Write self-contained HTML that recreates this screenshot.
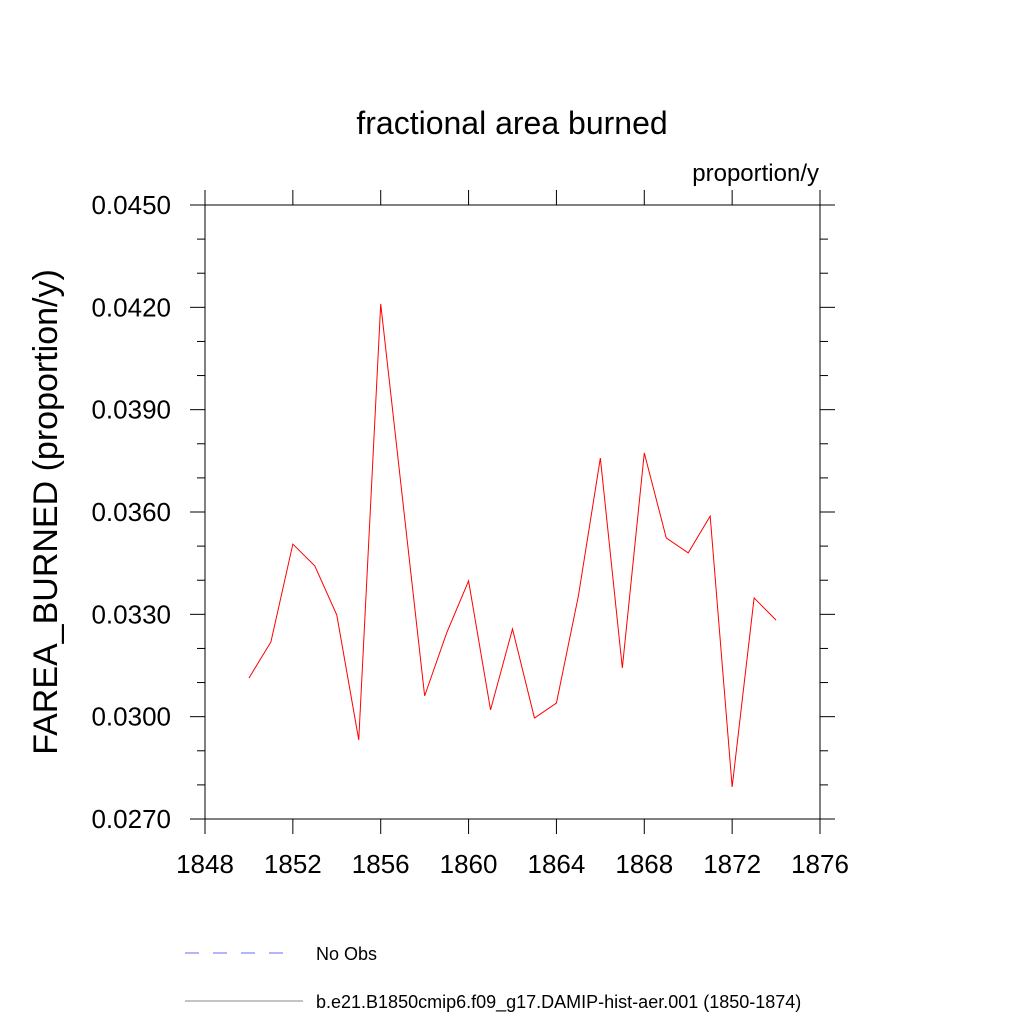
<!DOCTYPE html>
<html><head><meta charset="utf-8"><style>body{margin:0;background:#fff}svg{display:block}</style></head>
<body>
<svg id="c" width="1024" height="1024" xmlns="http://www.w3.org/2000/svg" font-family="Liberation Sans, sans-serif">
<text x="512" y="134" font-size="32" text-anchor="middle">fractional area burned</text>
<text x="819" y="181" font-size="24" text-anchor="end">proportion/y</text>
<text transform="translate(57,512) rotate(-90)" font-size="34" text-anchor="middle">FAREA_BURNED  (proportion/y)</text>
<rect x="205" y="205" width="615" height="614" fill="none" stroke="#000" stroke-width="1"/>
<g id="ticks"></g>
<polyline id="line" fill="none" stroke="#ff0000" stroke-width="1"/>
<line x1="185" y1="953" x2="292" y2="953" stroke="#6a6aff" stroke-dasharray="14,14"/>
<text x="316" y="960" font-size="18">No Obs</text>
<line x1="185" y1="1001" x2="303" y2="1001" stroke="#888"/>
<text x="316" y="1008" font-size="18">b.e21.B1850cmip6.f09_g17.DAMIP-hist-aer.001 (1850-1874)</text>
</svg>
<script>
const years=[1850,1851,1852,1853,1854,1855,1856,1857,1858,1859,1860,1861,1862,1863,1864,1865,1866,1867,1868,1869,1870,1871,1872,1873,1874];
const values=[0.03113,0.03219,0.03506,0.03442,0.03298,0.02932,0.04210,0.03635,0.03061,0.03245,0.03398,0.03020,0.03257,0.02996,0.03040,0.03354,0.03758,0.03143,0.03773,0.03524,0.03480,0.03588,0.02794,0.03348,0.03283];
const xTicks=[1848,1852,1856,1860,1864,1868,1872,1876];
const yTicks=["0.0270","0.0300","0.0330","0.0360","0.0390","0.0420","0.0450"];
const X0=205,X1=820,Y0=819,Y1=205,xmin=1848,xmax=1876,ymin=0.027,ymax=0.045;
const sx=v=>X0+(v-xmin)/(xmax-xmin)*(X1-X0);
const sy=v=>Y0-(v-ymin)/(ymax-ymin)*(Y0-Y1);
const NS="http://www.w3.org/2000/svg";
const g=document.getElementById('ticks');
function ln(x1,y1,x2,y2,name){const l=document.createElementNS(NS,'line');l.setAttribute('x1',x1);l.setAttribute('y1',y1);l.setAttribute('x2',x2);l.setAttribute('y2',y2);l.setAttribute('stroke','#000');


g.appendChild(l);}
function tx(x,y,s,anchor,name){const t=document.createElementNS(NS,'text');t.setAttribute('x',x);t.setAttribute('y',y);t.setAttribute('font-size','26');t.setAttribute('text-anchor',anchor);t.textContent=s;


g.appendChild(t);}
xTicks.forEach(v=>{const x=sx(v);ln(x,Y0,x,Y0+15,'x-tick');ln(x,Y1,x,Y1-15,'x-tick-top');tx(x,Y0+54,String(v),'middle','x-tick-label');});
for(let v=ymin;v<=ymax+1e-9;v+=0.001){const y=sy(v);const major=Math.round(v*1000)%3===0;const L=major?15:8;ln(X0-L,y,X0,y,'y-tick');ln(X1,y,X1+L,y,'y-tick-right');}
yTicks.forEach(s=>{const y=sy(parseFloat(s));tx(X0-34,y+9,s,'end','y-tick-label');});
document.getElementById('line').setAttribute('points',years.map((yr,i)=>sx(yr)+','+sy(values[i])).join(' '));
</script>
</body></html>
